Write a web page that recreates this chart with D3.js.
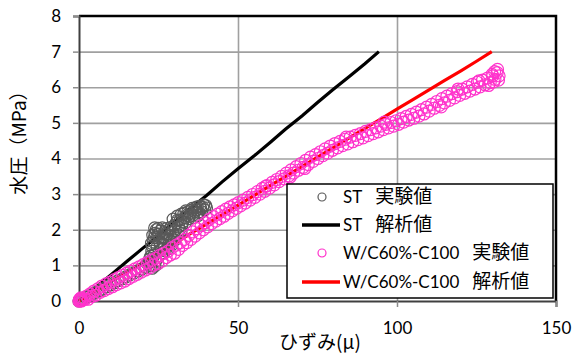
<!DOCTYPE html>
<html>
<head>
<meta charset="utf-8">
<script src="https://cdn.jsdelivr.net/npm/d3@7"></script>
<style>
  body { margin: 0; background: #fff; }
  svg { display: block; }
</style>
</head>
<body>
<div id="chart"></div>
<script>
// axis ticks
const xTicks = [0, 50, 100, 150];
const yTicks = [0, 1, 2, 3, 4, 5, 6, 7, 8];

// ST test points [strain(μ), pressure(MPa)]
const stTest = [
  [0,0],[0.5,0.02],[1.2,0.05],[2.3,0.1],[3.6,0.16],[4.8,0.22],[6.1,0.28],[7.3,0.33],[8.6,0.4],[9.8,0.45],
  [11.1,0.51],[12.3,0.57],[13.6,0.62],[14.8,0.68],[16.1,0.74],[17.3,0.79],[18.6,0.85],[19.8,0.9],[21.0,0.95],[22.1,1.0],
  [22.4,1.12],[22.6,1.26],[22.9,1.4],[23.1,1.53],[23.4,1.66],[23.7,1.78],[23.9,1.9],[24.3,2.0],[24.9,2.04],[25.6,1.97],
  [26.2,2.05],[26.9,1.93],[27.5,2.03],[28.1,1.98],[28.8,2.06],[24.6,1.52],[25.3,1.68],[25.9,1.44],[26.6,1.6],[27.3,1.74],
  [28.0,1.57],[28.7,1.82],[29.4,1.93],[30.0,2.12],[30.6,2.2],[31.3,2.08],[31.9,2.27],[32.6,2.22],[33.2,2.34],[33.9,2.4],
  [34.5,2.31],[35.1,2.46],[35.8,2.41],[36.4,2.51],[37.0,2.56],[37.6,2.49],[38.3,2.59],[38.9,2.63],[39.5,2.56],[40.1,2.61],
  [23.6,1.28],[24.1,1.12],[25.1,1.27],[26.1,1.35],[27.1,1.41],[28.1,1.47],[29.1,1.57],[30.1,1.71],[31.1,1.86],[32.1,1.97],
  [29.6,2.3],[30.9,2.38],[32.2,2.44],[33.6,2.53],[35.6,2.6],[37.2,2.64],
  [22.8,1.62],[23.2,1.85],[23.8,2.05],[24.4,1.78],[25.0,1.88],[25.6,1.58],[26.3,1.78],[26.8,1.48],[27.6,1.88],[28.3,1.70],
  [29.0,1.68],[29.8,1.84],[30.3,1.98],[31.0,2.27],[31.6,2.0],[32.3,2.12],[33.0,2.46],[33.4,2.2],[34.2,2.5],[34.8,2.38],
  [35.4,2.55],[36.0,2.34],[36.7,2.62],[37.4,2.4],[38.0,2.66],[38.6,2.5],[39.2,2.7],[39.8,2.68],[22.6,1.0],[23.0,0.92],
  [23.8,0.98],[24.8,1.05],[21.8,1.06],[22.2,1.18]
];

// ST analysis line
const stCalc = [
  [0,0],[4.8,0.35],[10.1,0.74],[15.2,1.12],[19.9,1.47],[25.3,1.86],[30.0,2.22],[34.8,2.58],[40.2,2.97],[45.1,3.35],
  [49.8,3.70],[55.3,4.09],[60.1,4.45],[64.9,4.82],[70.2,5.20],[75.0,5.57],[79.8,5.93],[85.1,6.31],[89.9,6.66],[94.3,7.0]
];

// W/C60%-C100 test points
const wcTest = [
  [0,0],[0.2,0.05],[0.1,0.0],[0.7,0.0],[1.0,0.03],[0.4,0.03],[0.9,0.01],[1.3,0.06],[0.6,0.09],[1.9,0.05],
  [2.4,0.14],[2.9,0.05],[3.5,0.2],[4.1,0.13],[4.7,0.28],[5.2,0.16],[5.9,0.34],[6.6,0.24],[7.2,0.42],[7.9,0.29],
  [8.5,0.48],[9.2,0.35],[9.8,0.53],[10.5,0.40],[11.1,0.60],[11.8,0.46],[12.4,0.66],[13.1,0.51],[13.7,0.72],[14.4,0.56],
  [15.0,0.78],[15.7,0.63],[16.3,0.84],[17.0,0.69],[17.6,0.90],[18.3,0.75],[18.9,0.96],[19.6,0.81],[20.2,1.02],[20.9,0.87],
  [21.5,1.08],[22.2,0.93],[22.8,1.14],[23.5,1.01],[24.1,1.20],[24.8,1.05],[25.4,1.28],[26.1,1.12],[26.7,1.34],[27.4,1.22],
  [28.0,1.40],[28.7,1.29],[29.3,1.50],[30.0,1.34],[30.6,1.57],[31.3,1.45],[31.9,1.64],[32.6,1.56],[33.2,1.73],[33.9,1.64],
  [34.5,1.84],[35.2,1.73],[35.8,1.94],[36.5,1.82],[37.1,2.03],[37.8,1.91],[38.4,2.12],[39.1,2.00],[39.7,2.20],[40.4,2.08],
  [41.0,2.29],[41.7,2.17],[42.3,2.37],[43.0,2.24],[43.6,2.44],[44.3,2.31],[44.9,2.51],[45.6,2.38],[46.2,2.58],[46.9,2.46],
  [47.5,2.64],[48.2,2.53],[48.8,2.70],[49.5,2.60],[50.1,2.76],[50.8,2.67],[51.6,2.83],[52.3,2.75],[53.1,2.91],[53.8,2.83],
  [54.6,2.99],[55.3,2.91],[56.1,3.07],[56.9,3.00],[57.6,3.16],[58.4,3.08],[59.1,3.24],[59.9,3.17],[60.7,3.33],[61.4,3.26],
  [62.2,3.41],[62.9,3.35],[63.7,3.50],[64.5,3.43],[65.2,3.59],[66.0,3.51],[66.7,3.68],[67.5,3.59],[68.3,3.77],[69.0,3.67],
  [69.8,3.86],[70.5,3.75],[71.3,3.95],[72.1,3.83],[72.8,4.04],[73.6,3.92],[74.4,4.11],[75.1,4.00],[75.9,4.19],[76.7,4.08],
  [77.4,4.27],[78.2,4.15],[79.0,4.35],[79.7,4.23],[80.5,4.42],[81.3,4.30],[82.1,4.48],[82.9,4.36],[83.7,4.54],[84.5,4.41],
  [85.3,4.60],[86.1,4.47],[86.9,4.65],[87.7,4.53],[88.5,4.70],[89.3,4.58],[90.1,4.76],[90.9,4.64],[91.7,4.81],[92.5,4.70],
  [93.3,4.86],[94.1,4.75],[94.9,4.91],[95.7,4.81],[96.5,4.96],[97.3,4.86],[98.1,5.01],[98.9,4.91],[99.7,5.06],[100.5,4.96],
  [101.3,5.12],[102.1,5.02],[102.9,5.18],[103.7,5.08],[104.5,5.24],[105.3,5.13],[106.1,5.30],[106.9,5.19],[107.7,5.37],[108.5,5.25],
  [109.3,5.44],[110.1,5.33],[110.9,5.52],[111.7,5.41],[112.5,5.60],[113.3,5.49],[114.1,5.68],[114.9,5.56],[115.7,5.75],[116.5,5.63],
  [117.3,5.82],[118.1,5.70],[118.9,5.88],[119.7,5.77],[120.5,5.95],[121.3,5.83],[122.1,6.01],[122.9,5.89],[123.7,6.08],[124.5,5.95],
  [125.3,6.14],[126.1,6.01],[126.9,6.20],[127.7,6.07],[128.5,6.26],[129.3,6.13],[130.1,6.32],[130.8,6.22],[131.5,6.41],[132.1,6.32],
  [131.6,6.50],[130.7,6.44],[129.9,6.36],[131.9,6.20],[130.4,6.15],[128.8,6.05],[125.8,6.18],[119.2,5.95],[113.9,5.45],[96.0,5.02],
  [84.0,4.60],[71.0,3.72],[66.4,3.48],[58.7,3.22]
];

// W/C60%-C100 analysis line
const wcCalc = [
  [0,0],[5.1,0.27],[10.2,0.55],[14.9,0.80],[20.1,1.08],[25.0,1.35],[30.2,1.62],[35.0,1.89],[40.1,2.16],[44.9,2.42],
  [50.2,2.70],[55.0,2.96],[60.1,3.24],[65.0,3.50],[70.2,3.78],[74.9,4.03],[80.1,4.31],[85.0,4.58],[90.2,4.86],[95.0,5.11],
  [100.1,5.39],[105.0,5.65],[110.2,5.93],[115.0,6.19],[120.1,6.46],[125.0,6.73],[129.8,7.0]
];

const legendNames = ["ST", "ST", "W/C60%-C100", "W/C60%-C100"];
const legendKinds = ["実験値", "解析値", "実験値", "解析値"];

const W = 580, H = 354;
const margin = { t: 16, r: 24, b: 53, l: 79 };
const latin = "Lato, 'Liberation Sans', sans-serif";
const cjk = "'Noto Sans CJK JP', sans-serif";

const svg = d3.select("#chart").append("svg")
  .attr("width", W).attr("height", H)
  .attr("viewBox", [0, 0, W, H]);

svg.append("rect").attr("width", W).attr("height", H).attr("fill", "#fff");

const x = d3.scaleLinear().domain([0, 150]).range([margin.l, W - margin.r]);
const y = d3.scaleLinear().domain([0, 8]).range([H - margin.b, margin.t]);

// grid
const grid = svg.append("g").attr("class", "grid");
grid.append("g")
  .attr("transform", `translate(${margin.l},0)`)
  .call(d3.axisLeft(y).tickValues(yTicks.slice(1, -1)).tickSize(-(W - margin.l - margin.r)).tickFormat(""))
  .call(g => g.select(".domain").remove())
  .call(g => g.selectAll("line").attr("stroke", "#a0a0a0").attr("stroke-width", 1.6));
grid.append("g")
  .attr("transform", `translate(0,${H - margin.b})`)
  .call(d3.axisBottom(x).tickValues(xTicks.slice(1, -1)).tickSize(-(H - margin.t - margin.b)).tickFormat(""))
  .call(g => g.select(".domain").remove())
  .call(g => g.selectAll("line").attr("stroke", "#a0a0a0").attr("stroke-width", 1.6));

// frame top / right
svg.append("path")
  .attr("d", `M${x(0)},${y(8)}H${x(150)}V${y(0)}`)
  .attr("fill", "none").attr("stroke", "#000").attr("stroke-width", 2.5);

// axes
const ax = svg.append("g")
  .attr("transform", `translate(0,${H - margin.b})`)
  .call(d3.axisBottom(x).tickValues(xTicks).tickSize(6).tickPadding(15));
const ay = svg.append("g")
  .attr("transform", `translate(${margin.l},0)`)
  .call(d3.axisLeft(y).tickValues(yTicks).tickSize(6).tickPadding(12));
[ax, ay].forEach(g => {
  g.select(".domain").attr("stroke", "#404040").attr("stroke-width", 2);
  g.selectAll(".tick line").attr("stroke", "#8c8c8c").attr("stroke-width", 1.5);
  g.selectAll("text").attr("font-family", latin).attr("font-size", 17).attr("fill", "#000");
});

// lines
const line = d3.line().x(d => x(d[0])).y(d => y(d[1]));
svg.append("path").datum(stCalc).attr("d", line)
  .attr("fill", "none").attr("stroke", "#000").attr("stroke-width", 3.2);
svg.append("path").datum(wcCalc).attr("d", line)
  .attr("fill", "none").attr("stroke", "#ff0000").attr("stroke-width", 3.2);

// markers
svg.append("g").selectAll("circle").data(stTest).join("circle")
  .attr("cx", d => x(d[0])).attr("cy", d => y(d[1])).attr("r", 6)
  .attr("fill", "none").attr("stroke", "#595959").attr("stroke-width", 1.2);
svg.append("g").selectAll("circle").data(wcTest).join("circle")
  .attr("cx", d => x(d[0])).attr("cy", d => y(d[1])).attr("r", 6)
  .attr("fill", "none").attr("stroke", "#ff33cc").attr("stroke-width", 1.2);

// axis titles
svg.append("text")
  .attr("transform", "translate(19,138) rotate(-90)")
  .attr("text-anchor", "middle").attr("dy", "0.35em")
  .attr("font-family", cjk).attr("font-size", 19)
  .text("水圧（MPa）");
svg.append("text")
  .attr("x", 320).attr("y", 342)
  .attr("text-anchor", "middle").attr("dy", "0.35em")
  .attr("font-family", cjk).attr("font-size", 19)
  .text("ひずみ(μ)");

// legend
const lg = svg.append("g");
lg.append("rect")
  .attr("x", 287).attr("y", 184).attr("width", 266).attr("height", 114)
  .attr("fill", "#fff").attr("stroke", "#000").attr("stroke-width", 1.5);
const rows = [197, 225, 253, 282];
const swatch = [
  { type: "dot", color: "#595959" },
  { type: "line", color: "#000" },
  { type: "dot", color: "#ff33cc" },
  { type: "line", color: "#ff0000" }
];
rows.forEach((ry, i) => {
  const s = swatch[i];
  if (s.type === "dot") {
    lg.append("circle").attr("cx", 322).attr("cy", ry).attr("r", 4)
      .attr("fill", "none").attr("stroke", s.color).attr("stroke-width", 1.2);
  } else {
    lg.append("line").attr("x1", 302).attr("x2", 340).attr("y1", ry).attr("y2", ry)
      .attr("stroke", s.color).attr("stroke-width", 3.5);
  }
  const t = lg.append("text").attr("x", 343).attr("y", ry).attr("dy", "0.35em");
  t.append("tspan").attr("font-family", latin).attr("font-size", 17).text(legendNames[i]);
  t.append("tspan").attr("dx", 13).attr("font-family", cjk).attr("font-size", 19).text(legendKinds[i]);
});
</script>
</body>
</html>
